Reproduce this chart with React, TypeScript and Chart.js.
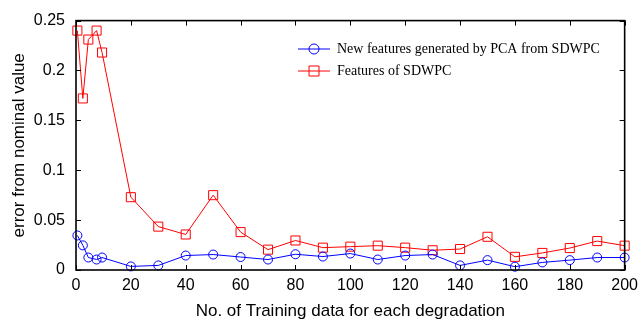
import React, { useEffect, useRef } from "react";
import { Chart, registerables } from "chart.js";

Chart.register(...registerables);

const trainingCounts = [0.5, 2.5, 4.5, 7.5, 9.5, 20, 30, 40, 50, 60, 70, 80, 90, 100, 110, 120, 130, 140, 150, 160, 170, 180, 190, 200];
const pcaErrors = [0.0346, 0.0247, 0.0125, 0.0105, 0.0125, 0.0036, 0.0046, 0.0145, 0.0155, 0.013, 0.0105, 0.0158, 0.0135, 0.0165, 0.0105, 0.0145, 0.0155, 0.0046, 0.0099, 0.0033, 0.0076, 0.0099, 0.0125, 0.0125];
const sdwpcErrors = [0.24, 0.172, 0.231, 0.24, 0.218, 0.073, 0.0435, 0.0356, 0.075, 0.038, 0.0204, 0.0296, 0.0224, 0.0234, 0.0244, 0.0224, 0.0198, 0.021, 0.0333, 0.0132, 0.0171, 0.022, 0.029, 0.0244];
const xTickValues = [0, 20, 40, 60, 80, 100, 120, 140, 160, 180, 200];
const yTickValues = [0, 0.05, 0.1, 0.15, 0.2, 0.25];
const yTickLabels = ["0", "0.05", "0.1", "0.15", "0.2", "0.25"];
const seriesLabels = ["New features generated by PCA from SDWPC", "Features of SDWPC"];

const boxPlugin = {
  id: "boxPlugin",
  afterDatasetsDraw(chart: any) {
    const { ctx, chartArea } = chart;
    const { left, right, top, bottom } = chartArea;
    const xs = chart.scales.x;
    const ys = chart.scales.y;
    ctx.save();
    ctx.strokeStyle = "#000";
    ctx.lineWidth = 1;
    const tl = 5;
    ctx.beginPath();
    xTickValues.forEach((v) => {
      const px = Math.round(xs.getPixelForValue(v)) + 0.5;
      ctx.moveTo(px, bottom);
      ctx.lineTo(px, bottom - tl);
      ctx.moveTo(px, top);
      ctx.lineTo(px, top + tl);
    });
    yTickValues.forEach((v) => {
      const py = Math.round(ys.getPixelForValue(v)) + 0.5;
      ctx.moveTo(left, py);
      ctx.lineTo(left + tl, py);
      ctx.moveTo(right, py);
      ctx.lineTo(right - tl, py);
    });
    ctx.stroke();
    ctx.lineWidth = 1.6;
    ctx.strokeRect(left, top, right - left, bottom - top);

    // legend
    const items = chart.data.datasets;
    const lx0 = 298;
    const lx1 = 330;
    const rows = [49, 71];
    ctx.font = "14px 'Liberation Serif'";
    ctx.textBaseline = "middle";
    ctx.textAlign = "left";
    items.forEach((ds: any, i: number) => {
      const y = rows[i];
      ctx.strokeStyle = ds.borderColor;
      ctx.lineWidth = 1;
      ctx.beginPath();
      ctx.moveTo(lx0, y);
      ctx.lineTo(lx1, y);
      ctx.stroke();
      const cx = (lx0 + lx1) / 2;
      ctx.beginPath();
      if (ds.pointStyle === "circle") {
        ctx.arc(cx, y, 5, 0, Math.PI * 2);
      } else {
        ctx.rect(cx - 5, y - 5, 10, 10);
      }
      ctx.stroke();
      ctx.fillStyle = "#000";
      ctx.fillText(ds.label, 337, y);
    });
    ctx.restore();
  },
};

export default function App() {
  const ref = useRef<HTMLCanvasElement>(null);
  useEffect(() => {
    if (!ref.current) return;
    const chart = new Chart(ref.current, {
      type: "line",
      data: {
        datasets: [
          {
            label: seriesLabels[0],
            data: trainingCounts.map((x, i) => ({ x, y: pcaErrors[i] })),
            borderColor: "#0000ff",
            backgroundColor: "rgba(0,0,0,0)",
            borderWidth: 1,
            pointStyle: "circle",
            pointRadius: 4.5,
            pointBorderWidth: 1,
            pointBorderColor: "#0000ff",
            pointBackgroundColor: "rgba(0,0,0,0)",
            tension: 0,
            clip: false,
          },
          {
            label: seriesLabels[1],
            data: trainingCounts.map((x, i) => ({ x, y: sdwpcErrors[i] })),
            borderColor: "#ff0000",
            backgroundColor: "rgba(0,0,0,0)",
            borderWidth: 1,
            pointStyle: "rect",
            pointRadius: 6.4,
            pointBorderWidth: 1,
            pointBorderColor: "#ff0000",
            pointBackgroundColor: "rgba(0,0,0,0)",
            tension: 0,
            clip: false,
          },
        ],
      },
      options: {
        responsive: false,
        animation: false,
        events: [],
        layout: { padding: { top: 17, right: 18, left: 0, bottom: 0 } },
        plugins: { legend: { display: false }, tooltip: { enabled: false } },
        scales: {
          x: {
            type: "linear",
            min: 0,
            max: 200,
            afterFit: (s: any) => {
              s.height = 55;
            },
            afterBuildTicks: (s: any) => {
              s.ticks = xTickValues.map((v) => ({ value: v }));
            },
            grid: { display: false, drawTicks: false },
            border: { display: false },
            ticks: {
              color: "#000",
              padding: 6,
              maxRotation: 0,
              font: { family: "'Liberation Sans'", size: 16 },
              callback: (v: any) => String(v),
            },
            title: {
              display: true,
              text: "No. of Training data for each degradation",
              color: "#000",
              font: { family: "'Liberation Sans'", size: 17 },
              padding: { top: 0, bottom: 3 },
            },
          },
          y: {
            type: "linear",
            min: 0,
            max: 0.25,
            afterFit: (s: any) => {
              s.width = 76;
            },
            afterBuildTicks: (s: any) => {
              s.ticks = yTickValues.map((v) => ({ value: v }));
            },
            grid: { display: false, drawTicks: false },
            border: { display: false },
            ticks: {
              color: "#000",
              padding: 11,
              font: { family: "'Liberation Sans'", size: 16 },
              callback: (_v: any, i: number) => yTickLabels[i],
            },
            title: {
              display: true,
              text: "error from nominal value",
              color: "#000",
              font: { family: "'Liberation Sans'", size: 17 },
              padding: { top: 9, bottom: 0 },
            },
          },
        },
      },
      plugins: [boxPlugin],
    });
    return () => chart.destroy();
  }, []);
  return (
    <div style={{ position: "fixed", left: 0, top: 0, width: 644, height: 325, background: "#fff" }}>
      <canvas ref={ref} width={644} height={325} />
    </div>
  );
}
